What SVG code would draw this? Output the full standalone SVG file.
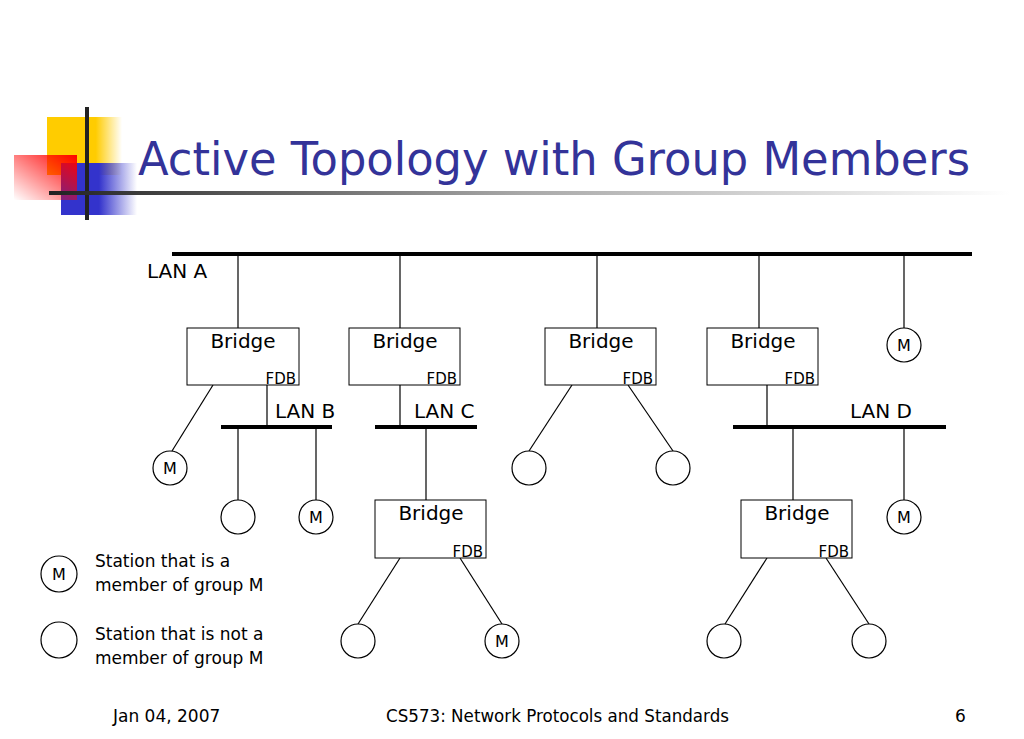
<svg xmlns="http://www.w3.org/2000/svg" width="1024" height="739" viewBox="0 0 1024 739">
<defs>
<linearGradient id="gy" x1="0" y1="0" x2="1" y2="0"><stop offset="0" stop-color="#FFCC00"/><stop offset="0.65" stop-color="#FFCC00"/><stop offset="1" stop-color="#FFCC00" stop-opacity="0"/></linearGradient>
<linearGradient id="gb" x1="0" y1="0" x2="1" y2="0"><stop offset="0" stop-color="#3333CC"/><stop offset="0.5" stop-color="#3333CC"/><stop offset="1" stop-color="#3333CC" stop-opacity="0"/></linearGradient>
<linearGradient id="gr" x1="1" y1="0" x2="0" y2="1"><stop offset="0" stop-color="#FF0000"/><stop offset="1" stop-color="#FF0000" stop-opacity="0"/></linearGradient>
<linearGradient id="gl" gradientUnits="userSpaceOnUse" x1="49" y1="0" x2="1010" y2="0"><stop offset="0" stop-color="#222"/><stop offset="0.5" stop-color="#aaa"/><stop offset="1" stop-color="#fff"/></linearGradient>
</defs>
<style>
.t{font-family:"DejaVu Sans","Liberation Sans",sans-serif;fill:#000}
.b{font-size:20px}
.f{font-size:15px}
.m{font-size:16px}
.s{font-size:17px}
.box{fill:#fff;stroke:#000;stroke-width:1}
.ln{stroke:#000;stroke-width:1.2;fill:none}
.lan{stroke:#000;stroke-width:4}
.st{fill:#fff;stroke:#000;stroke-width:1.2}
</style>
<rect width="1024" height="739" fill="#fff"/>
<g id="logo">
<rect x="47" y="117" width="75" height="58" fill="url(#gy)"/>
<rect x="61" y="163" width="76" height="52" fill="url(#gb)"/>
<rect x="14" y="155" width="63" height="45" fill="url(#gr)"/>
<rect x="85" y="107" width="4" height="113" fill="#222"/>
<rect x="49" y="191" width="961" height="4" fill="url(#gl)"/>
</g>
<text x="138" y="175" font-family="DejaVu Sans,Liberation Sans,sans-serif" font-size="47" fill="#333399" textLength="832" lengthAdjust="spacingAndGlyphs">Active Topology with Group Members</text>
<g id="connectors">
<line class="lan" x1="172" y1="254" x2="972" y2="254"/>
<line class="lan" x1="221" y1="427" x2="332" y2="427"/>
<line class="lan" x1="375" y1="427" x2="477" y2="427"/>
<line class="lan" x1="733" y1="427" x2="946" y2="427"/>
<line class="ln" x1="238" y1="254" x2="238" y2="328"/>
<line class="ln" x1="400" y1="254" x2="400" y2="328"/>
<line class="ln" x1="597" y1="254" x2="597" y2="328"/>
<line class="ln" x1="759" y1="254" x2="759" y2="328"/>
<line class="ln" x1="904" y1="254" x2="904" y2="328"/>
<line class="ln" x1="213" y1="385" x2="172" y2="451"/>
<line class="ln" x1="267" y1="385" x2="267" y2="427"/>
<line class="ln" x1="238" y1="427" x2="238" y2="500"/>
<line class="ln" x1="316" y1="427" x2="316" y2="500"/>
<line class="ln" x1="400" y1="385" x2="400" y2="427"/>
<line class="ln" x1="426" y1="427" x2="426" y2="500"/>
<line class="ln" x1="572" y1="385" x2="529" y2="451"/>
<line class="ln" x1="628" y1="385" x2="673" y2="451"/>
<line class="ln" x1="767" y1="385" x2="767" y2="427"/>
<line class="ln" x1="793" y1="427" x2="793" y2="500"/>
<line class="ln" x1="904" y1="427" x2="904" y2="500"/>
<line class="ln" x1="400" y1="558" x2="358" y2="624"/>
<line class="ln" x1="460" y1="558" x2="502" y2="624"/>
<line class="ln" x1="767" y1="558" x2="725" y2="624"/>
<line class="ln" x1="826" y1="558" x2="869" y2="624"/>
</g>
<g id="lan-labels">
<text class="t b" x="147" y="278">LAN A</text>
<text class="t b" x="275" y="418">LAN B</text>
<text class="t b" x="414" y="418">LAN C</text>
<text class="t b" x="850" y="418">LAN D</text>
</g>
<g id="bridge1"><rect class="box" x="187" y="328" width="112" height="57"/><text class="t b" x="243" y="348" text-anchor="middle">Bridge</text><text class="t f" x="296" y="384" text-anchor="end">FDB</text></g>
<g id="bridge2"><rect class="box" x="349" y="328" width="111" height="57"/><text class="t b" x="405" y="348" text-anchor="middle">Bridge</text><text class="t f" x="457" y="384" text-anchor="end">FDB</text></g>
<g id="bridge3"><rect class="box" x="545" y="328" width="111" height="57"/><text class="t b" x="601" y="348" text-anchor="middle">Bridge</text><text class="t f" x="653" y="384" text-anchor="end">FDB</text></g>
<g id="bridge4"><rect class="box" x="707" y="328" width="111" height="57"/><text class="t b" x="763" y="348" text-anchor="middle">Bridge</text><text class="t f" x="815" y="384" text-anchor="end">FDB</text></g>
<g id="bridge5"><rect class="box" x="375" y="500" width="111" height="58"/><text class="t b" x="431" y="520" text-anchor="middle">Bridge</text><text class="t f" x="483" y="557" text-anchor="end">FDB</text></g>
<g id="bridge6"><rect class="box" x="741" y="500" width="111" height="58"/><text class="t b" x="797" y="520" text-anchor="middle">Bridge</text><text class="t f" x="849" y="557" text-anchor="end">FDB</text></g>
<g id="stationA-M"><circle class="st" cx="904" cy="345" r="17"/><text class="t m" x="904" y="351" text-anchor="middle">M</text></g>
<g id="station1-M"><circle class="st" cx="170" cy="468" r="17"/><text class="t m" x="170" y="474" text-anchor="middle">M</text></g>
<g id="stationB1"><circle class="st" cx="238" cy="517" r="17"/></g>
<g id="stationB2-M"><circle class="st" cx="316" cy="517" r="17"/><text class="t m" x="316" y="523" text-anchor="middle">M</text></g>
<g id="station3a"><circle class="st" cx="529" cy="468" r="17"/></g>
<g id="station3b"><circle class="st" cx="673" cy="468" r="17"/></g>
<g id="stationD-M"><circle class="st" cx="904" cy="517" r="17"/><text class="t m" x="904" y="523" text-anchor="middle">M</text></g>
<g id="station5a"><circle class="st" cx="358" cy="641" r="17"/></g>
<g id="station5b-M"><circle class="st" cx="502" cy="641" r="17"/><text class="t m" x="502" y="647" text-anchor="middle">M</text></g>
<g id="station6a"><circle class="st" cx="724" cy="641" r="17"/></g>
<g id="station6b"><circle class="st" cx="869" cy="641" r="17"/></g>
<g id="legend">
<circle class="st" cx="59" cy="574" r="18"/><text class="t m" x="59" y="580" text-anchor="middle">M</text>
<text class="t s" x="95" y="567">Station that is a</text>
<text class="t s" x="95" y="591">member of group M</text>
<circle class="st" cx="59" cy="640" r="18"/>
<text class="t s" x="95" y="640">Station that is not a</text>
<text class="t s" x="95" y="664">member of group M</text>
</g>
<g id="footer">
<text class="t s" x="113" y="722">Jan 04, 2007</text>
<text class="t s" x="386" y="722" textLength="343" lengthAdjust="spacingAndGlyphs">CS573: Network Protocols and Standards</text>
<text class="t s" x="955" y="722">6</text>
</g>
</svg>
